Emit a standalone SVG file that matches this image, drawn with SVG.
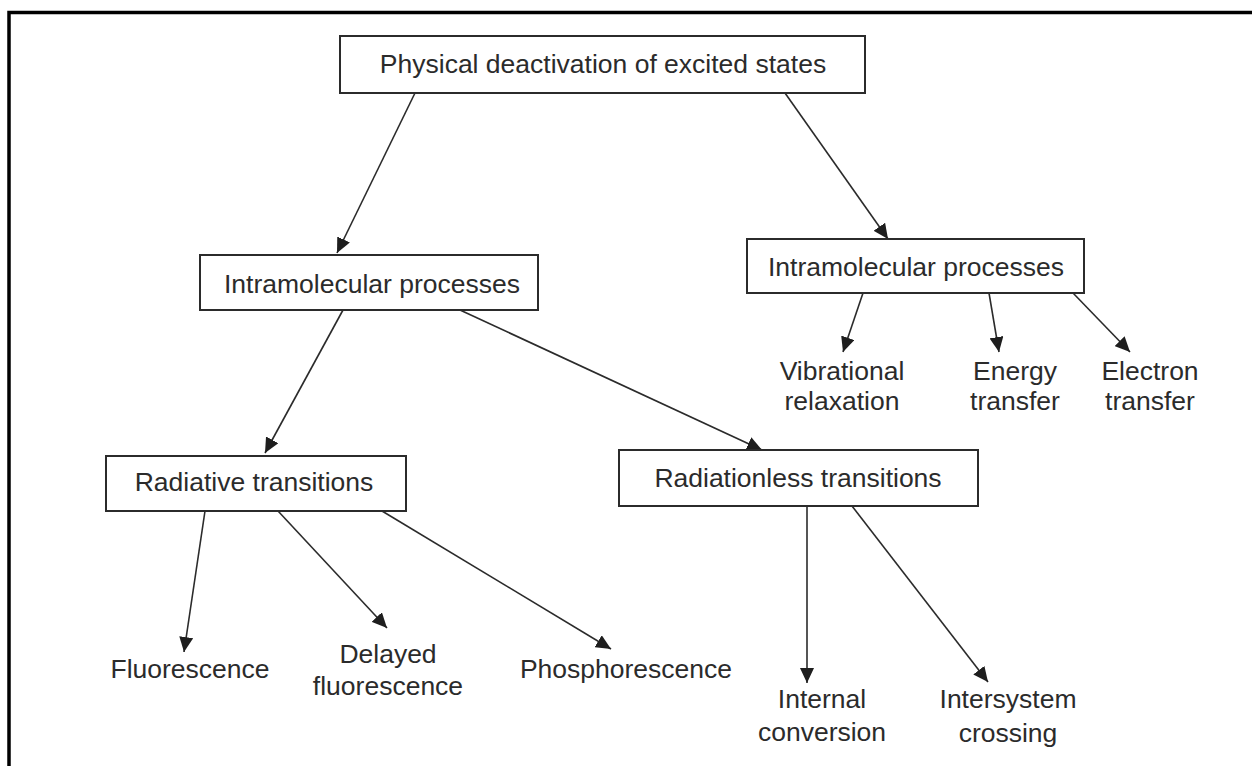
<svg xmlns="http://www.w3.org/2000/svg" width="1252" height="766" viewBox="0 0 1252 766">
<style>
.box{fill:#fff;stroke:#2b2b2b;stroke-width:2}
.t{font-family:"Liberation Sans",Arial,sans-serif;font-size:26.5px;fill:#2b2b2b;text-anchor:middle}
.c{stroke:#2b2b2b;stroke-width:1.6;fill:none;marker-end:url(#ah)}
.frame{stroke:#000;stroke-width:3.5;fill:none}
</style>
<defs>
<marker id="ah" markerUnits="userSpaceOnUse" markerWidth="16" markerHeight="14" viewBox="0 0 16 14" refX="15" refY="7" orient="auto">
<path d="M0,0 L15,7 L0,14 Z" fill="#1e1e1e"/>
</marker>
</defs>
<rect width="1252" height="766" fill="#fff"/>
<path class="frame" d="M9,766 V12.5 H1252"/>
<g id="connectors">
<line class="c" x1="415" y1="93" x2="337" y2="253"/>
<line class="c" x1="785" y1="93" x2="888" y2="239"/>
<line class="c" x1="343" y1="310" x2="265" y2="453"/>
<line class="c" x1="460" y1="310" x2="762" y2="450"/>
<line class="c" x1="863" y1="293" x2="843" y2="352"/>
<line class="c" x1="989" y1="293" x2="999" y2="352"/>
<line class="c" x1="1073" y1="293" x2="1130" y2="352"/>
<line class="c" x1="205" y1="511" x2="184" y2="652"/>
<line class="c" x1="278" y1="511" x2="387" y2="628"/>
<line class="c" x1="382" y1="511" x2="611" y2="649"/>
<line class="c" x1="807" y1="506" x2="807" y2="683"/>
<line class="c" x1="852" y1="506" x2="988" y2="682"/>
</g>
<g id="n-top"><rect class="box" x="340" y="36" width="525" height="57"/><text class="t" x="603" y="73">Physical deactivation of excited states</text></g>
<g id="n-intra-left"><rect class="box" x="200" y="255" width="338" height="55"/><text class="t" x="372" y="293">Intramolecular processes</text></g>
<g id="n-intra-right"><rect class="box" x="747" y="239" width="337" height="54"/><text class="t" x="916" y="276">Intramolecular processes</text></g>
<g id="n-radiative"><rect class="box" x="106" y="456" width="300" height="55"/><text class="t" x="254" y="491">Radiative transitions</text></g>
<g id="n-radiationless"><rect class="box" x="619" y="450" width="359" height="56"/><text class="t" x="798" y="487">Radiationless transitions</text></g>
<g id="n-vib"><text class="t" x="842" y="380">Vibrational</text><text class="t" x="842" y="410">relaxation</text></g>
<g id="n-energy"><text class="t" x="1015" y="380">Energy</text><text class="t" x="1015" y="410">transfer</text></g>
<g id="n-electron"><text class="t" x="1150" y="380">Electron</text><text class="t" x="1150" y="410">transfer</text></g>
<g id="n-fluor"><text class="t" x="190" y="678">Fluorescence</text></g>
<g id="n-delayed"><text class="t" x="388" y="663">Delayed</text><text class="t" x="388" y="695">fluorescence</text></g>
<g id="n-phos"><text class="t" x="626" y="678">Phosphorescence</text></g>
<g id="n-internal"><text class="t" x="822" y="708">Internal</text><text class="t" x="822" y="741">conversion</text></g>
<g id="n-isc"><text class="t" x="1008" y="708">Intersystem</text><text class="t" x="1008" y="742">crossing</text></g>
</svg>
